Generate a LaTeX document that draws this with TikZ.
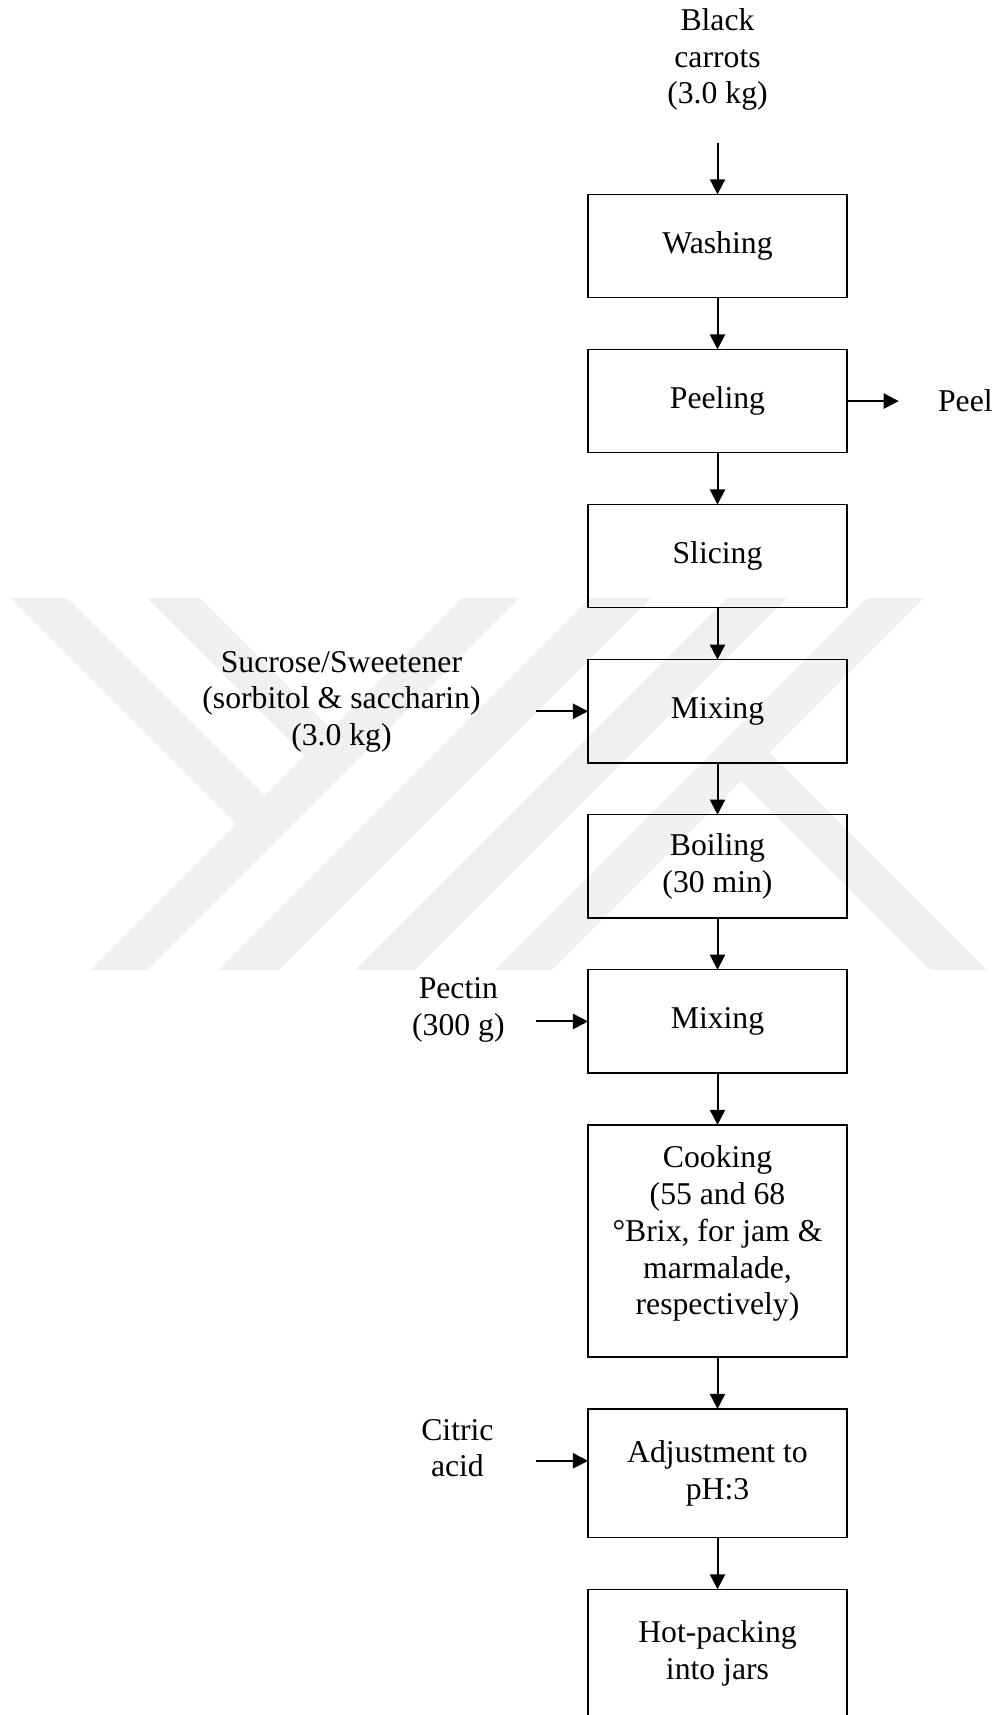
\documentclass[tikz,border=0pt]{standalone}
\usepackage{fontspec}
\setmainfont{Liberation Serif}
\usepackage{tikz}
\usetikzlibrary{arrows.meta,positioning,calc}

\begin{document}
\begin{tikzpicture}[->, >={Triangle[length=5.7pt,width=5.7pt]}, x=0.3785pt, y=0.3785pt, line width=0.75pt, node distance=19.6pt, font=\fontsize{12}{13.9}\selectfont]
\tikzstyle{every node}=[align=center,inner sep=0pt]
\tikzstyle{process}=[draw,line width=0.5pt,outer sep=0pt,minimum width=98pt,minimum height=39.1pt]
\tikzstyle{tallprocess}=[process,minimum height=48.7pt]
\tikzstyle{watermark}=[fill=black!6,draw=none]

% faint logo behind the chart
\begin{scope}[-]
\clip (0,-598) rectangle (994,-970);
\foreach \a/\b in {1060/1117,1188/1249,1325/1385,1465/1522}
  \fill[watermark] (\a-598,-598) -- (\b-598,-598) -- (\b-970,-970) -- (\a-970,-970) -- cycle;
\fill[watermark] (10,-598) -- (67,-598) -- (264.5,-795.5) -- (236,-824) -- cycle;
\fill[watermark] (147,-598) -- (200,-598) -- (331,-729) -- (304.5,-755.5) -- cycle;
\fill[watermark] (741,-781) -- (769.5,-752.5) -- (987,-970) -- (930,-970) -- cycle;
\end{scope}

\useasboundingbox (0,0) rectangle (994,-1715);

\node[process]    (wash) at (717.5,-246) {Washing};
\node[process]    (peeling)[below=of wash]    {Peeling};
\node[process]    (slicing)[below=of peeling] {Slicing};
\node[process]    (mix1)[below=of slicing]    {Mixing};
\node[process]    (boil)[below=of mix1]       {Boiling\\(30 min)};
\node[process]    (mix2)[below=of boil]       {Mixing};
\node[process,minimum height=87.9pt,text depth=8.1pt] (cook)[below=of mix2] {Cooking\\(55 and 68\\°Brix, for jam \&\\marmalade,\\respectively)};
\node[tallprocess] (adjust)[below=of cook]    {Adjustment to\\pH:3};
\node[tallprocess] (pack)[below=of adjust]    {Hot-packing\\into jars};

\coordinate[above=of wash] (feed);
\node[above=11.7pt of feed] (carrots) {Black\\carrots\\(3.0 kg)};
\coordinate[right=of peeling] (peelout);
\node[right=14.5pt of peelout] (peel) {Peel};
\coordinate[left=of mix1] (sugarin);
\node[left=20.7pt of sugarin,yshift=3.6pt] (sugar) {Sucrose/Sweetener\\(sorbitol \& saccharin)\\(3.0 kg)};
\coordinate[left=of mix2] (pectinin);
\node[left=11.6pt of pectinin,yshift=4.4pt] (pectin) {Pectin\\(300 g)};
\coordinate[left=of adjust,yshift=4.7pt] (acidin);
\node[left=15.8pt of acidin,yshift=4.8pt] (acid) {Citric\\acid};

\path
(feed) edge (wash)
(wash) edge (peeling)
(peeling) edge (slicing)
(slicing) edge (mix1)
(mix1) edge (boil)
(boil) edge (mix2)
(mix2) edge (cook)
(cook) edge (adjust)
(adjust) edge (pack)
(peeling) edge (peelout)
(sugarin) edge (mix1)
(pectinin) edge (mix2)
(acidin) edge (acidin -| adjust.west);
\end{tikzpicture}
\end{document}
